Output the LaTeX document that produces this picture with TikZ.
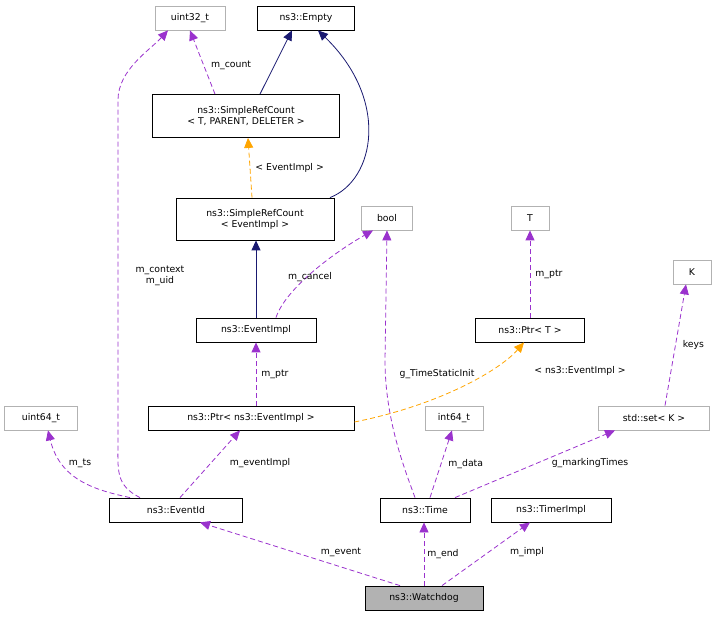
\documentclass[tikz,border=0pt]{standalone}
\usepackage{fontspec}
\setmainfont{DejaVu Sans}
\usetikzlibrary{arrows.meta}
\definecolor{purp}{HTML}{9A32CD}
\definecolor{navy}{HTML}{191970}
\definecolor{orng}{HTML}{FFA500}
\begin{document}
\begin{tikzpicture}[x=1pt,y=-1pt,
  every node/.style={font=\fontsize{9.3}{11}\selectfont},
  box/.style={draw=black,fill=white,inner sep=0pt,minimum height=24pt,align=center,line width=0.8pt},
  gbox/.style={box,draw=gray!60,text=black},
  lbl/.style={fill=none,draw=none,inner sep=1pt},
  tip/.style={line width=0.8pt},
  mem/.style={tip,draw=purp,-{Triangle[length=10pt,width=9pt,fill=purp]},dash pattern=on 5pt off 3pt},
  tpl/.style={tip,draw=orng,-{Triangle[length=10pt,width=9pt,fill=orng]},dash pattern=on 5pt off 3pt},
  inh/.style={tip,draw=navy,-{Triangle[length=10pt,width=9pt,fill=navy]}}]
\useasboundingbox (0,0) rectangle (718,617);
\node[gbox,minimum width=70pt] (u32) at (190,18) {uint32\_t};
\node[box,minimum width=97pt] (empty) at (306,18) {ns3::Empty};
\node[box,minimum width=187pt,minimum height=43pt] (srct) at (246,116) {ns3::SimpleRefCount\\< T, PARENT, DELETER >};
\node[box,minimum width=158pt,minimum height=42pt] (srce) at (255,219) {ns3::SimpleRefCount\\< EventImpl >};
\node[gbox,minimum width=51pt] (bool) at (387,218) {bool};
\node[gbox,minimum width=38pt] (T) at (530,218) {T};
\node[gbox,minimum width=38pt] (K) at (692,272) {K};
\node[box,minimum width=120pt] (ei) at (256,330) {ns3::EventImpl};
\node[box,minimum width=109pt] (ptrt) at (530,330) {ns3::Ptr< T >};
\node[gbox,minimum width=73pt] (u64) at (41,418) {uint64\_t};
\node[box,minimum width=206pt] (ptre) at (251,418) {ns3::Ptr< ns3::EventImpl >};
\node[gbox,minimum width=58pt] (i64) at (454,418) {int64\_t};
\node[gbox,minimum width=111pt] (set) at (654,418) {std::set< K >};
\node[box,minimum width=133pt] (eid) at (176,510) {ns3::EventId};
\node[box,minimum width=90pt] (time) at (425,510) {ns3::Time};
\node[box,minimum width=120pt] (timer) at (551,510) {ns3::TimerImpl};
\node[box,fill=gray!60,minimum width=118pt] (wd) at (424,598) {ns3::Watchdog};

\draw[inh] ([xshift=14pt]srct.north) -- ([xshift=-14pt]empty.south);
\draw[inh] ([xshift=75pt]srce.north) .. controls (375,180) and (390,100) .. ([xshift=12pt]empty.south);
\draw[mem] ([xshift=-31pt]srct.north) -- (u32.south) node[lbl,pos=0.45,right=6pt] {m\_count};
\draw[tpl] ([xshift=-3pt]srce.north) -- ([xshift=2pt]srct.south) node[lbl,midway,right=4pt] {< EventImpl >};
\draw[inh] (ei.north) -- ([xshift=1pt]srce.south);
\draw[mem] ([xshift=20pt]ei.north) .. controls (285,290) and (330,255) .. ([xshift=-14pt]bool.south);
\node[lbl] at (310,277) {m\_cancel};
\draw[mem] ([xshift=-36pt]eid.north) .. controls (115,485) and (118,470) .. (118,440) -- (118,100) .. controls (118,70) and (150,50) .. ([xshift=-22pt]u32.south);
\node[lbl,align=center] at (160,276) {m\_context\\m\_uid};
\draw[mem] (ptre.north -| ei.south) -- (ei.south) node[lbl,midway,right=4pt] {m\_ptr};
\draw[tpl] ([yshift=-4pt]ptre.east) .. controls (440,405) and (500,370) .. ([xshift=-6pt]ptrt.south);
\node[lbl] at (580,371) {< ns3::EventImpl >};
\draw[mem] (ptrt.north) -- (T.south) node[lbl,midway,right=4pt] {m\_ptr};
\draw[mem] ([xshift=-10pt]time.north) .. controls (405,470) and (385,420) .. (385,360) -- (bool.south);
\node[lbl] at (437,374) {g\_TimeStaticInit};
\draw[mem] ([xshift=11pt]set.north) -- ([xshift=-6pt]K.south) node[lbl,midway,right=6pt] {keys};
\draw[mem] ([xshift=-46pt]eid.north) .. controls (95,490) and (60,480) .. ([xshift=7pt]u64.south);
\node[lbl] at (80,463) {m\_ts};
\draw[mem] ([xshift=4pt]eid.north) -- ([xshift=-11pt]ptre.south);
\node[lbl] at (260,463) {m\_eventImpl};
\draw[mem] ([xshift=5pt]time.north) -- ([xshift=-2pt]i64.south) node[lbl,midway,right=6pt] {m\_data};
\draw[mem] ([xshift=30pt]time.north) -- ([xshift=-39pt]set.south);
\node[lbl] at (590,463) {g\_markingTimes};
\draw[mem] ([xshift=-24pt]wd.north) -- ([xshift=24pt]eid.south);
\node[lbl] at (341,552) {m\_event};
\draw[mem] (wd.north) -- ([xshift=-1pt]time.south) node[lbl,midway,right=2pt] {m\_end};
\draw[mem] ([xshift=18pt]wd.north) -- ([xshift=-21pt]timer.south);
\node[lbl] at (527,552) {m\_impl};
\end{tikzpicture}
\end{document}
